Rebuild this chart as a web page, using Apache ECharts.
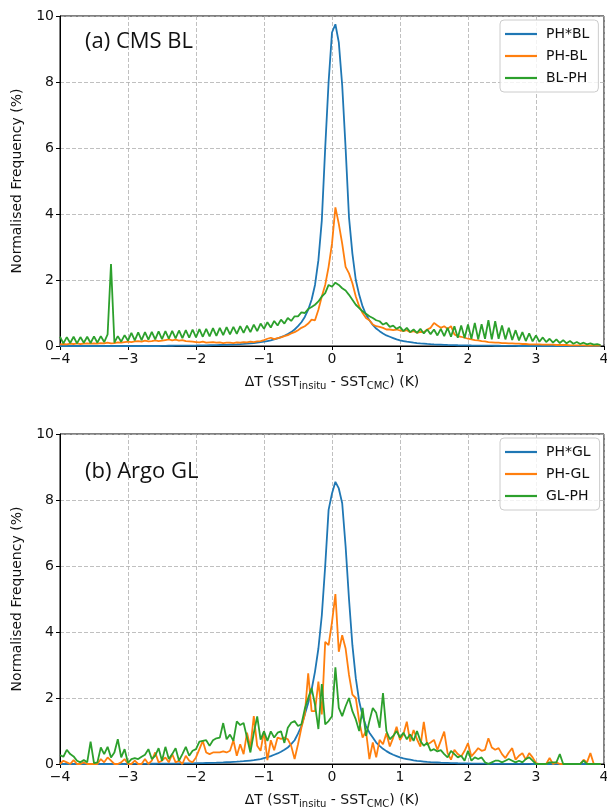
<!DOCTYPE html>
<html>
<head>
<meta charset="utf-8">
<script src="https://cdn.jsdelivr.net/npm/echarts@6/dist/echarts.min.js"></script>
<style>html,body{margin:0;padding:0;background:#fff}#c{width:607px;height:810px}</style>
</head>
<body>
<div id="c"></div>
<script>
// Bin positions (K)
const xs = [
-4.00,-3.95,-3.90,-3.85,-3.80,-3.75,-3.70,-3.65,-3.60,-3.55,
-3.50,-3.45,-3.40,-3.35,-3.30,-3.25,-3.20,-3.15,-3.10,-3.05,
-3.00,-2.95,-2.90,-2.85,-2.80,-2.75,-2.70,-2.65,-2.60,-2.55,
-2.50,-2.45,-2.40,-2.35,-2.30,-2.25,-2.20,-2.15,-2.10,-2.05,
-2.00,-1.95,-1.90,-1.85,-1.80,-1.75,-1.70,-1.65,-1.60,-1.55,
-1.50,-1.45,-1.40,-1.35,-1.30,-1.25,-1.20,-1.15,-1.10,-1.05,
-1.00,-0.95,-0.90,-0.85,-0.80,-0.75,-0.70,-0.65,-0.60,-0.55,
-0.50,-0.45,-0.40,-0.35,-0.30,-0.25,-0.20,-0.15,-0.10,-0.05,
0.00,0.05,0.10,0.15,0.20,0.25,0.30,0.35,0.40,0.45,
0.50,0.55,0.60,0.65,0.70,0.75,0.80,0.85,0.90,0.95,
1.00,1.05,1.10,1.15,1.20,1.25,1.30,1.35,1.40,1.45,
1.50,1.55,1.60,1.65,1.70,1.75,1.80,1.85,1.90,1.95,
2.00,2.05,2.10,2.15,2.20,2.25,2.30,2.35,2.40,2.45,
2.50,2.55,2.60,2.65,2.70,2.75,2.80,2.85,2.90,2.95,
3.00,3.05,3.10,3.15,3.20,3.25,3.30,3.35,3.40,3.45,
3.50,3.55,3.60,3.65,3.70,3.75,3.80,3.85,3.90,3.95
];

// (a) CMS BL
const phStarBL = [
0,0,0,0,0,0,0,0,0,0,
0,0,0,0,0,0,0,0,0,0,
0,0,0,0,0,0,0,0,0,0,
0.005,0.006,0.007,0.008,0.009,0.010,0.011,0.012,0.013,0.014,
0.015,0.017,0.019,0.021,0.023,0.025,0.027,0.030,0.033,0.036,
0.040,0.044,0.049,0.055,0.062,0.070,0.080,0.090,0.100,0.115,
0.13,0.15,0.17,0.20,0.23,0.27,0.31,0.36,0.42,0.50,
0.60,0.72,0.88,1.10,1.40,1.85,2.60,3.80,6.00,8.00,
9.50,9.75,9.20,7.90,6.00,3.90,2.80,2.00,1.55,1.20,
0.95,0.78,0.64,0.53,0.45,0.38,0.32,0.28,0.24,0.20,
0.17,0.15,0.13,0.115,0.10,0.088,0.078,0.070,0.062,0.055,
0.049,0.044,0.040,0.036,0.032,0.029,0.026,0.023,0.021,0.019,
0.017,0.015,0.014,0.013,0.012,0.011,0.010,0.009,0.008,0.007,
0.006,0.005,0.004,0.003,0.002,0,0,0,0,0,
0,0,0,0,0,0,0,0,0,0,
0,0,0,0,0,0,0,0,0,0
];
const phMinusBL = [
0.05,0.06,0.05,0.07,0.06,0.08,0.06,0.07,0.08,0.07,
0.08,0.07,0.09,0.08,0.10,0.08,0.09,0.11,0.10,0.12,
0.13,0.12,0.14,0.15,0.13,0.16,0.14,0.15,0.17,0.15,
0.16,0.18,0.20,0.17,0.19,0.16,0.18,0.15,0.14,0.13,
0.12,0.11,0.13,0.10,0.11,0.12,0.10,0.11,0.09,0.10,
0.10,0.09,0.11,0.10,0.12,0.11,0.13,0.12,0.14,0.15,
0.18,0.22,0.25,0.21,0.24,0.26,0.30,0.33,0.38,0.42,
0.48,0.55,0.60,0.68,0.80,0.78,1.10,1.50,1.85,2.40,
3.10,4.20,3.70,3.10,2.40,2.20,1.90,1.50,1.20,1.00,
0.85,0.78,0.65,0.60,0.58,0.55,0.50,0.50,0.48,0.50,
0.47,0.45,0.48,0.42,0.45,0.40,0.43,0.42,0.50,0.55,
0.70,0.62,0.55,0.60,0.52,0.60,0.35,0.30,0.28,0.25,
0.22,0.20,0.18,0.17,0.15,0.14,0.12,0.11,0.10,0.10,
0.09,0.09,0.08,0.08,0.07,0.07,0.06,0.06,0.05,0.05,
0.05,0.05,0.04,0.04,0.04,0.04,0.03,0.03,0.03,0.03,
0.02,0.02,0.02,0.02,0.02,0.01,0.01,0.01,0.01,0.01
];
const blMinusPH = [
0.28,0.08,0.27,0.09,0.28,0.08,0.27,0.10,0.28,0.09,
0.29,0.10,0.30,0.12,0.35,2.48,0.10,0.30,0.13,0.33,
0.16,0.40,0.17,0.41,0.18,0.42,0.19,0.43,0.20,0.44,
0.21,0.45,0.22,0.46,0.23,0.47,0.24,0.48,0.25,0.50,
0.26,0.51,0.28,0.52,0.29,0.54,0.31,0.55,0.33,0.57,
0.35,0.58,0.37,0.60,0.40,0.62,0.42,0.65,0.45,0.68,
0.52,0.72,0.56,0.76,0.62,0.80,0.68,0.85,0.76,0.90,
0.90,1.02,1.00,1.12,1.18,1.25,1.35,1.50,1.60,1.85,
1.80,1.92,1.85,1.75,1.68,1.55,1.40,1.25,1.15,1.05,
0.98,0.90,0.85,0.78,0.75,0.65,0.70,0.58,0.62,0.52,
0.58,0.45,0.55,0.42,0.50,0.40,0.52,0.38,0.50,0.36,
0.50,0.32,0.52,0.30,0.55,0.28,0.60,0.25,0.62,0.24,
0.65,0.22,0.70,0.20,0.66,0.22,0.78,0.20,0.75,0.22,
0.62,0.20,0.55,0.18,0.48,0.17,0.42,0.15,0.38,0.14,
0.32,0.13,0.26,0.12,0.22,0.10,0.20,0.09,0.18,0.08,
0.15,0.07,0.12,0.06,0.10,0.05,0.08,0.04,0.06,0.03
];

// (b) Argo GL
const phStarGL = [
0,0,0,0,0,0,0,0,0,0,
0,0,0,0,0,0,0,0,0,0,
0.004,0.004,0.005,0.005,0.006,0.006,0.007,0.008,0.008,0.009,
0.010,0.011,0.012,0.013,0.014,0.015,0.016,0.017,0.019,0.021,
0.023,0.025,0.028,0.031,0.034,0.037,0.040,0.044,0.048,0.053,
0.058,0.064,0.070,0.077,0.085,0.095,0.105,0.115,0.130,0.145,
0.18,0.21,0.24,0.28,0.32,0.37,0.43,0.50,0.60,0.72,
0.92,1.15,1.50,1.85,2.25,2.80,3.50,4.50,6.00,7.70,
8.20,8.55,8.35,7.90,6.60,5.00,3.60,2.60,1.90,1.45,
1.15,0.95,0.80,0.65,0.55,0.46,0.39,0.33,0.28,0.24,
0.20,0.17,0.15,0.13,0.11,0.095,0.085,0.075,0.065,0.057,
0.050,0.045,0.040,0.036,0.032,0.028,0.025,0.022,0.020,0.017,
0.015,0.013,0.012,0.011,0.010,0.009,0.008,0.007,0.006,0.005,
0.005,0.004,0.004,0.003,0.003,0.002,0.002,0.001,0.001,0,
0,0,0,0,0,0,0,0,0,0,
0,0,0,0,0,0,0,0,0,0
];
const phMinusGL = [
0,0.10,0.05,0,0.12,0,0,0.05,0,0,
0,0,0.15,0.05,0.20,0.10,0,0,0.05,0.15,
0,0,0.10,0,0,0.15,0,0.10,0.35,0.05,
0.10,0.20,0.05,0.30,0.05,0.10,0,0.25,0.10,0.05,
0.20,0.45,0.70,0.35,0.30,0.35,0.35,0.35,0.38,0.35,
0.40,0.72,0.25,0.60,0.30,0.95,0.50,1.45,0.55,0.40,
1.00,0.12,0.72,0.42,0.80,0.76,0.80,0.75,0.55,0.15,
0.60,1.10,1.50,2.75,1.60,1.60,2.50,1.50,3.70,3.60,
4.30,5.15,3.40,3.90,3.50,2.70,2.10,2.00,1.30,0.80,
1.00,0.15,0.65,0.20,0.73,0.60,0.93,0.53,0.80,1.13,
0.73,0.90,1.28,0.68,1.03,0.75,0.53,1.28,0.58,0.65,
0.73,0.43,0.70,0.98,0.33,0.13,0.43,0.30,0.23,0.40,
0.63,0.23,0.35,0.48,0.40,0.43,0.78,0.50,0.43,0.48,
0.30,0.18,0.35,0.48,0.13,0.25,0.33,0.13,0.33,0.20,
0.03,0,0,0,0.18,0,0.05,0,0,0,
0,0,0,0,0.13,0.05,0.33,0,0,0
];
const glMinusPH = [
0.27,0.22,0.43,0.30,0.23,0.10,0.05,0.12,0.05,0.68,
0.03,0.05,0.50,0.30,0.52,0.20,0.35,0.75,0.20,0.45,
0.03,0.15,0.18,0.15,0.22,0.28,0.45,0.15,0.25,0.48,
0.10,0.52,0.15,0.30,0.48,0.10,0.30,0.52,0.25,0.40,
0.45,0.68,0.70,0.72,0.55,0.72,0.78,0.80,1.24,0.75,
0.89,0.70,1.29,1.18,1.24,0.80,0.35,0.94,1.44,0.74,
0.99,0.70,0.99,0.80,0.95,0.99,0.64,1.10,1.25,1.30,
1.15,1.20,1.67,2.00,2.30,1.80,1.06,2.42,1.20,1.30,
1.45,2.93,1.70,1.45,1.75,2.00,1.60,1.35,1.00,1.70,
0.85,1.30,1.70,1.55,1.10,2.15,1.00,0.75,0.85,1.00,
0.80,0.95,0.75,0.90,0.70,1.00,0.70,0.55,0.65,0.40,
0.45,0.38,0.42,0.30,0.20,0.40,0.30,0.20,0.25,0.10,
0.40,0.10,0.20,0.15,0.20,0.05,0.00,0.05,0.10,0.10,
0.05,0.10,0.15,0.10,0.05,0.10,0.05,0.15,0.20,0.10,
0,0,0,0,0.05,0.05,0.05,0.30,0,0,
0,0,0,0,0.10,0,0,0,0,0
];

const xTicks = [-4,-3,-2,-1,0,1,2,3,4];
const yTicks = [0,2,4,6,8,10];

const C_BLUE = '#1f77b4', C_ORANGE = '#ff7f0e', C_GREEN = '#2ca02c';
const pair = arr => xs.map((x, i) => [x, arr[i]]);
const minus = v => String(v).replace('-', '\u2212');
const tickFont = { fontFamily: 'DejaVu Sans', fontSize: 14, color: '#111' };

function xAxisCfg(gi) {
  return {
    type: 'value', gridIndex: gi, min: xTicks[0], max: xTicks[xTicks.length - 1], interval: 1,
    axisLine: { show: true, onZero: false, lineStyle: { color: '#000', width: 1 } },
    axisTick: { show: true, inside: false, length: 4, lineStyle: { color: '#000' } },
    axisLabel: Object.assign({ margin: 6, formatter: minus, showMaxLabel: true }, tickFont),
    splitLine: { show: true, lineStyle: { color: '#b0b0b0', type: [4, 2], width: 0.8 } },
    name: '{a|\u0394T (SST}{s|insitu}{a| - SST}{s|CMC}{a|) (K)}',
    nameLocation: 'middle', nameGap: 28,
    nameTextStyle: {
      rich: {
        a: { fontFamily: 'DejaVu Sans', fontSize: 14, color: '#111', lineHeight: 17 },
        s: { fontFamily: 'DejaVu Sans', fontSize: 10, color: '#111', lineHeight: 11, verticalAlign: 'bottom' }
      }
    }
  };
}
function yAxisCfg(gi) {
  return {
    type: 'value', gridIndex: gi, min: yTicks[0], max: yTicks[yTicks.length - 1], interval: 2,
    axisLine: { show: true, onZero: false, lineStyle: { color: '#000', width: 1 } },
    axisTick: { show: true, inside: false, length: 4, lineStyle: { color: '#000' } },
    axisLabel: Object.assign({ margin: 6 }, tickFont),
    splitLine: { show: true, lineStyle: { color: '#b0b0b0', type: [4, 2], width: 0.8 } },
    name: 'Normalised Frequency (%)', nameLocation: 'middle', nameGap: 36,
    nameTextStyle: { fontFamily: 'DejaVu Sans', fontSize: 14, color: '#111' }
  };
}
function line(name, arr, color, gi) {
  return {
    type: 'line', name, data: pair(arr), xAxisIndex: gi, yAxisIndex: gi,
    symbol: 'none', showSymbol: false, smooth: false, clip: true,
    lineStyle: { color, width: 1.8 }, itemStyle: { color }, emphasis: { disabled: true }
  };
}
function legendCfg(names, top) {
  return {
    data: names, orient: 'vertical', left: 500, top,
    icon: 'rect', itemWidth: 32, itemHeight: 2.2, itemGap: 6,
    padding: [6, 9, 6, 5],
    backgroundColor: 'rgba(255,255,255,0.8)',
    borderColor: '#cccccc', borderWidth: 1, borderRadius: 4,
    textStyle: { fontFamily: 'DejaVu Sans', fontSize: 14, color: '#111', lineHeight: 16, padding: [0, 0, 0, 4] },
    selectedMode: false
  };
}

const chart = echarts.init(document.getElementById('c'), null, { renderer: 'canvas' });
chart.setOption({
  animation: false,
  backgroundColor: '#fff',
  grid: [
    { left: 60, top: 16, width: 544, height: 330, show: true, borderColor: '#000', borderWidth: 1, containLabel: false, outerBoundsMode: 'none' },
    { left: 60, top: 434, width: 544, height: 330, show: true, borderColor: '#000', borderWidth: 1, containLabel: false, outerBoundsMode: 'none' }
  ],
  xAxis: [xAxisCfg(0), xAxisCfg(1)],
  yAxis: [yAxisCfg(0), yAxisCfg(1)],
  legend: [legendCfg(['PH*BL', 'PH-BL', 'BL-PH'], 20), legendCfg(['PH*GL', 'PH-GL', 'GL-PH'], 438)],
  title: [
    { text: '(a) CMS BL', left: 80, top: 26, textStyle: { fontFamily: 'Open Sans', fontSize: 22, fontWeight: 'normal', color: '#111' } },
    { text: '(b) Argo GL', left: 80, top: 456, textStyle: { fontFamily: 'Open Sans', fontSize: 22, fontWeight: 'normal', color: '#111' } }
  ],
  series: [
    line('PH*BL', phStarBL, C_BLUE, 0),
    line('PH-BL', phMinusBL, C_ORANGE, 0),
    line('BL-PH', blMinusPH, C_GREEN, 0),
    line('PH*GL', phStarGL, C_BLUE, 1),
    line('PH-GL', phMinusGL, C_ORANGE, 1),
    line('GL-PH', glMinusPH, C_GREEN, 1)
  ]
});
</script>
</body>
</html>
